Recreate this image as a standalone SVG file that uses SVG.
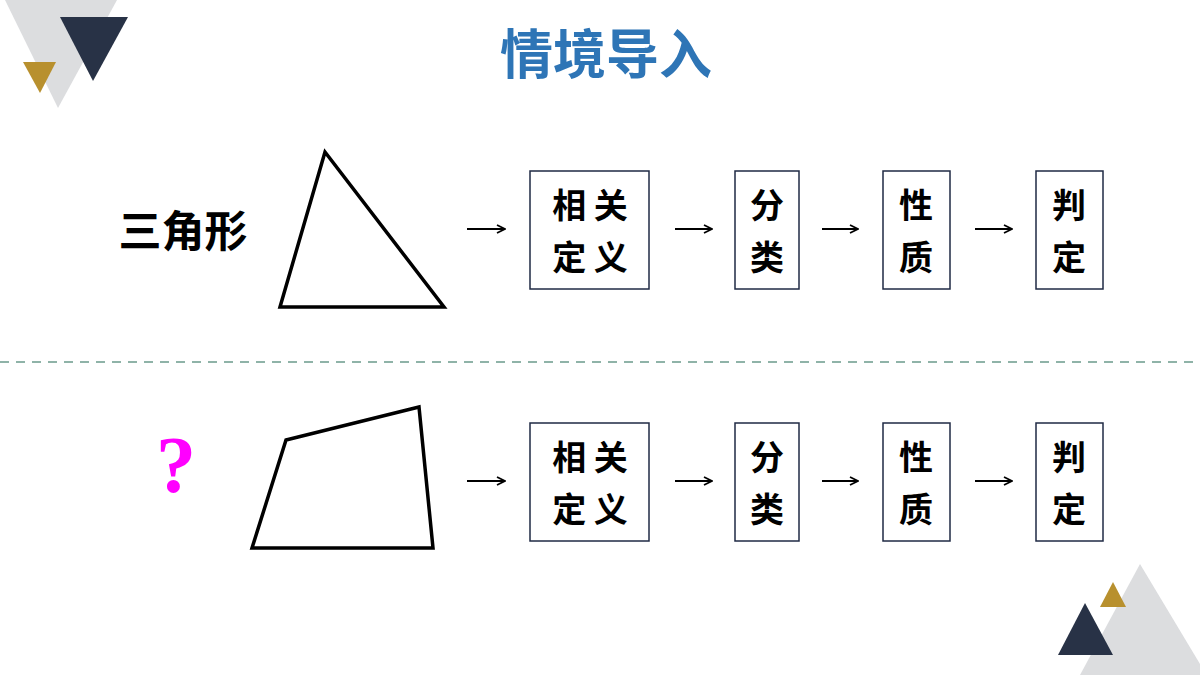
<svg xmlns="http://www.w3.org/2000/svg" width="1200" height="675" viewBox="0 0 1200 675">
<style>
.box{fill:#fff;stroke:#1F2A44;stroke-width:1.5}
.bt{font-family:"Noto Sans CJK SC",sans-serif;font-size:34px;font-weight:bold;fill:#000;text-anchor:middle}
.ar{stroke:#000;stroke-width:2;fill:none;marker-end:url(#ah)}
.sh{fill:none;stroke:#000;stroke-width:3.5}
</style>
<defs><marker id="ah" markerWidth="10" markerHeight="10" refX="9" refY="5" orient="auto" markerUnits="userSpaceOnUse"><path d="M1,1 L9,5 L1,9" fill="none" stroke="#000" stroke-width="1.8"/></marker></defs>
<rect width="1200" height="675" fill="#fff"/>
<g id="deco">
<polygon points="5,0 117,0 58,108" fill="#DCDDDF"/>
<polygon points="60,17 128,17 93,81" fill="#283246"/>
<polygon points="23,62 56,62 40,93" fill="#B8902E"/>
<polygon points="1140,564 1200,664 1200,675 1080,675" fill="#DCDDDF"/>
<polygon points="1085,603 1113,655 1058,655" fill="#283246"/>
<polygon points="1113,582 1126,607 1100,607" fill="#B8902E"/>
</g>
<text x="606" y="74" font-family="Noto Sans CJK SC,sans-serif" font-size="53" font-weight="bold" fill="#2E75B6" text-anchor="middle">情境导入</text>
<line x1="0" y1="362" x2="1200" y2="362" stroke="#8FB3A8" stroke-width="2" stroke-dasharray="9,7"/>
<g id="label1"><text x="183" y="247" font-family="Noto Sans CJK SC,sans-serif" font-size="43" font-weight="bold" text-anchor="middle">三角形</text></g>
<g id="label2"><text x="176" y="492" font-family="Liberation Serif,serif" font-size="80" font-weight="bold" fill="#FF00FF" text-anchor="middle">?</text></g>
<g id="tri"><polygon class="sh" points="325,152 280,307 444,307"/></g>
<g id="quad"><polygon class="sh" points="286,440 419,407 433,548 252,548"/></g>
<g id="r1a"><rect class="box" x="530" y="171" width="119" height="118"/><text class="bt" x="590" y="218">相 关</text><text class="bt" x="590" y="270">定 义</text></g>
<g id="r1b"><rect class="box" x="735" y="171" width="64" height="118"/><text class="bt" x="767" y="218">分</text><text class="bt" x="767" y="270">类</text></g>
<g id="r1c"><rect class="box" x="883" y="171" width="67" height="118"/><text class="bt" x="916" y="218">性</text><text class="bt" x="916" y="270">质</text></g>
<g id="r1d"><rect class="box" x="1036" y="171" width="67" height="118"/><text class="bt" x="1069" y="218">判</text><text class="bt" x="1069" y="270">定</text></g>
<g id="r2a"><rect class="box" x="530" y="423" width="119" height="118"/><text class="bt" x="590" y="470">相 关</text><text class="bt" x="590" y="522">定 义</text></g>
<g id="r2b"><rect class="box" x="735" y="423" width="64" height="118"/><text class="bt" x="767" y="470">分</text><text class="bt" x="767" y="522">类</text></g>
<g id="r2c"><rect class="box" x="883" y="423" width="67" height="118"/><text class="bt" x="916" y="470">性</text><text class="bt" x="916" y="522">质</text></g>
<g id="r2d"><rect class="box" x="1036" y="423" width="67" height="118"/><text class="bt" x="1069" y="470">判</text><text class="bt" x="1069" y="522">定</text></g>
<g id="connectors">
<line class="ar" x1="467" y1="229" x2="505" y2="229"/><line class="ar" x1="675" y1="229" x2="712" y2="229"/><line class="ar" x1="822" y1="229" x2="858" y2="229"/><line class="ar" x1="975" y1="229" x2="1012" y2="229"/>
<line class="ar" x1="467" y1="481" x2="505" y2="481"/><line class="ar" x1="675" y1="481" x2="712" y2="481"/><line class="ar" x1="822" y1="481" x2="858" y2="481"/><line class="ar" x1="975" y1="481" x2="1012" y2="481"/>
</g>
</svg>
